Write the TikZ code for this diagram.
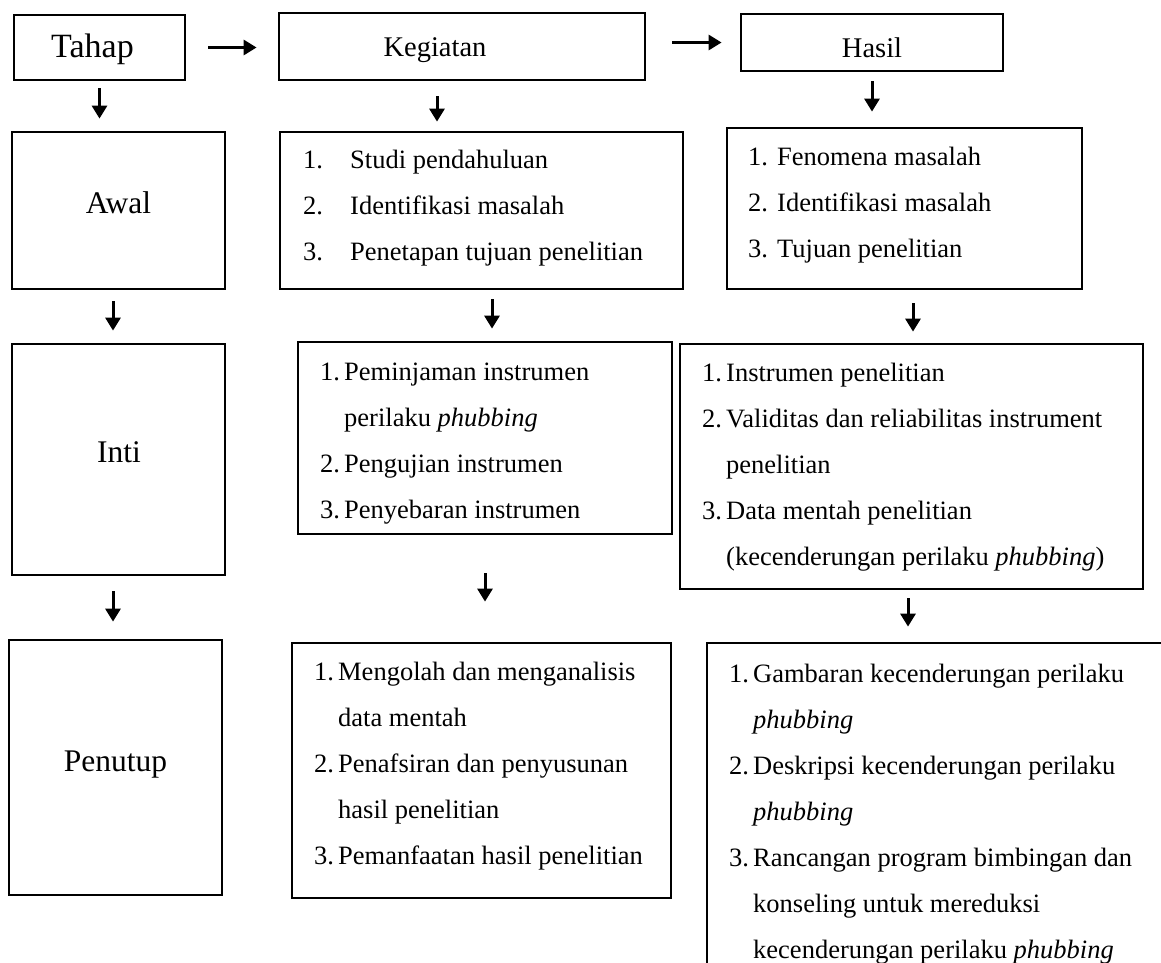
\documentclass[tikz,border=0pt]{standalone}
\usepackage{fontspec}
\setmainfont{Liberation Serif}
\usetikzlibrary{arrows.meta}

\newcommand{\lno}[1]{\makebox[24pt][l]{#1}}
\newcommand{\lind}{\hspace*{24pt}}

\tikzset{
  box/.style={draw, line width=2.8pt, rectangle, inner sep=0pt},
  headtext/.style={font=\fontsize{28.5}{34}\selectfont, anchor=base, inner sep=0pt},
  stagetext/.style={font=\fontsize{31.5}{38}\selectfont, anchor=base, inner sep=0pt},
  % the base of a list node is the baseline of its last line
  listtext/.style={font=\fontsize{26.5}{46}\selectfont, align=left, anchor=base west, inner sep=0pt},
  arr/.style={line width=3pt, -{Triangle[length=13pt,width=15pt]}},
}

\begin{document}
\begin{tikzpicture}[x=1pt, y=-1pt]
    \useasboundingbox (0,0) rectangle (1161,962);
    \clip (0,0) rectangle (1161,962);

    % header row
    \node[box, minimum width=171pt, minimum height=65pt] (tahap) at (99.5,47.5) {};
    \node[box, minimum width=366pt, minimum height=67pt] (kegiatan) at (462,46.5) {};
    \node[box, minimum width=262pt, minimum height=57pt] (hasil) at (872,42.5) {};
    \node[headtext, font=\fontsize{34}{40}\selectfont] (tahap-t) at (92.5,57) {Tahap};
    \node[headtext] (kegiatan-t) at (435,56) {Kegiatan};
    \node[headtext] (hasil-t) at (872,57) {Hasil};

    % stages
    \node[box, minimum width=213pt, minimum height=157pt] (awal) at (118.5,210.5) {};
    \node[box, minimum width=213pt, minimum height=231pt] (inti) at (118.5,459.5) {};
    \node[box, minimum width=213pt, minimum height=255pt] (penutup) at (115.5,767.5) {};
    \node[stagetext] (awal-t) at (118.5,213) {Awal};
    \node[stagetext] (inti-t) at (119,462) {Inti};
    \node[stagetext] (penutup-t) at (115.5,771) {Penutup};

    % kegiatan
    \node[box, minimum width=403pt, minimum height=157pt] (keg1) at (481.5,210.5) {};
    \node[box, minimum width=374pt, minimum height=192pt] (keg2) at (485,438) {};
    \node[box, minimum width=379pt, minimum height=255pt] (keg3) at (481.5,770.5) {};
    \node[listtext] (keg1-t) at (303,260) {%
        \makebox[47pt][l]{1.}Studi pendahuluan\\
        \makebox[47pt][l]{2.}Identifikasi masalah\\
        \makebox[47pt][l]{3.}Penetapan tujuan penelitian};
    \node[listtext] (keg2-t) at (320,518) {%
        \lno{1.}Peminjaman instrumen\\
        \lind perilaku \textit{phubbing}\\
        \lno{2.}Pengujian instrumen\\
        \lno{3.}Penyebaran instrumen};
    \node[listtext] (keg3-t) at (314,864) {%
        \lno{1.}Mengolah dan menganalisis\\
        \lind data mentah\\
        \lno{2.}Penafsiran dan penyusunan\\
        \lind hasil penelitian\\
        \lno{3.}Pemanfaatan hasil penelitian};

    % hasil
    \node[box, minimum width=355pt, minimum height=161pt] (has1) at (904.5,208.5) {};
    \node[box, minimum width=463pt, minimum height=245pt] (has2) at (911.5,466.5) {};
    \node[box, minimum width=468pt, minimum height=332pt] (has3) at (941,809) {};
    \node[listtext] (has1-t) at (748,257) {%
        \makebox[29pt][l]{1.}Fenomena masalah\\
        \makebox[29pt][l]{2.}Identifikasi masalah\\
        \makebox[29pt][l]{3.}Tujuan penelitian};
    \node[listtext] (has2-t) at (702,565) {%
        \lno{1.}Instrumen penelitian\\
        \lno{2.}Validitas dan reliabilitas instrument\\
        \lind penelitian\\
        \lno{3.}Data mentah penelitian\\
        \lind (kecenderungan perilaku \textit{phubbing})};
    \node[listtext] (has3-t) at (729,958) {%
        \lno{1.}Gambaran kecenderungan perilaku\\
        \lind\textit{phubbing}\\
        \lno{2.}Deskripsi kecenderungan perilaku\\
        \lind\textit{phubbing}\\
        \lno{3.}Rancangan program bimbingan dan\\
        \lind konseling untuk mereduksi\\
        \lind kecenderungan perilaku \textit{phubbing}};

    % arrows
    \coordinate (awal-out) at ([xshift=-5.5pt]awal.south);
    \coordinate (inti-out) at ([xshift=-5.5pt]inti.south);
    \coordinate (keg-out) at ([xshift=-25pt]kegiatan.south);
    \coordinate (keg1-out) at ([xshift=10.5pt]keg1.south);
    \coordinate (has1-out) at ([xshift=8.5pt]has1.south);
    \coordinate (has2-out) at ([xshift=-3.5pt]has2.south);

    \draw[arr, shorten <=22pt, shorten >=21pt] (tahap.east) -- (tahap.east -| kegiatan.west);
    \draw[arr, shorten <=26pt, shorten >=18pt] (kegiatan.east |- hasil.west) -- (hasil.west);
    \draw[arr, shorten <=7pt, shorten >=12pt] (tahap.south) -- (tahap.south |- awal.north);
    \draw[arr, shorten <=11pt, shorten >=12pt] (awal-out) -- (awal-out |- inti.north);
    \draw[arr, shorten <=15pt, shorten >=17pt] (inti-out) -- (inti-out |- penutup.north);
    \draw[arr, shorten <=15pt, shorten >=9pt] (keg-out) -- (keg-out |- keg1.north);
    \draw[arr, shorten <=9pt, shorten >=12pt] (keg1-out) -- (keg1-out |- keg2.north);
    \draw[arr, shorten <=38pt, shorten >=40pt] (keg2.south) -- (keg2.south |- keg3.north);
    \draw[arr, shorten <=9pt, shorten >=15pt] (hasil.south) -- (hasil.south |- has1.north);
    \draw[arr, shorten <=13pt, shorten >=11pt] (has1-out) -- (has1-out |- has2.north);
    \draw[arr, shorten <=8pt, shorten >=15pt] (has2-out) -- (has2-out |- has3.north);
\end{tikzpicture}
\end{document}
